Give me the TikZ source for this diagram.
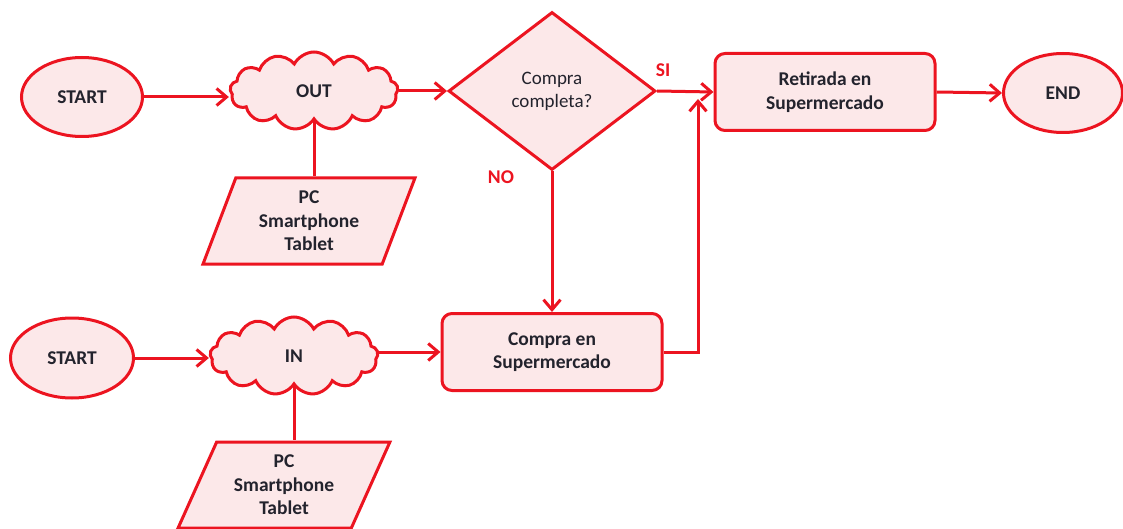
\documentclass[tikz,border=0pt]{standalone}
\usepackage{fontspec}
\setmainfont{Carlito}
\usetikzlibrary{shapes.geometric,shapes.symbols,arrows.meta}
\definecolor{flowred}{RGB}{236,20,32}
\definecolor{flowfill}{RGB}{252,232,233}
\definecolor{flowtext}{RGB}{35,35,45}
\tikzset{
  base/.style={draw=flowred, fill=flowfill, line width=3pt, text=flowtext,
    font=\fontsize{19.5}{23.5}\selectfont\bfseries, align=center, inner sep=2pt},
  terminal/.style={base, ellipse, minimum width=121pt, minimum height=79pt},
  channel/.style={base, cloud, cloud puffs=13, cloud puff arc=125, cloud ignores aspect,
    minimum width=168pt, minimum height=78pt},
  device/.style={base, trapezium, trapezium stretches=true, minimum height=86pt,
    minimum width=212pt},
  decision/.style={base, diamond, minimum width=207pt, minimum height=158pt,
    font=\fontsize{19}{23}\selectfont},
  process/.style={base, rectangle, rounded corners=10pt, minimum width=220pt, minimum height=77pt},
  link/.style={draw=flowred, line width=3pt},
  arr/.style={link, -{Straight Barb[length=10pt,width=17pt,line width=3pt]}},
  tag/.style={text=flowred, font=\fontsize{19.5}{22}\selectfont\bfseries}
}
\begin{document}
\begin{tikzpicture}[x=1pt,y=-1pt]
\useasboundingbox (0,0) rectangle (1123,529);

% upper branch: purchase outside the store
\node[terminal] (start1) at (82,97) {START};
\node[channel] (out) at (314,91) {OUT};
\node[device, trapezium left angle=70, trapezium right angle=110] (dev1) at (309,221)
  {PC\\Smartphone\\Tablet};
\node[decision] (check) at (552,91) {Compra\\completa?};
\node[process] (pickup) at (825,92) {Retirada en\\Supermercado};
\node[terminal, minimum width=119pt] (end) at (1063,93) {END};

% lower branch: purchase inside the store
\node[terminal, minimum width=123pt, minimum height=80pt] (start2) at (72,358) {START};
\node[channel] (in) at (294,356) {IN};
\node[device, trapezium left angle=65, trapezium right angle=115] (dev2) at (284,485)
  {PC\\Smartphone\\Tablet};
\node[process] (store) at (552,352) {Compra en\\Supermercado};

\coordinate (join) at (698,99);

\draw[arr] (start1) -- (out.west |- start1.east);
\draw[link] (out.south) -- (out.south |- dev1.north);
\draw[arr] (out.east |- check.west) -- (check.west);
\draw[arr] (check.east) -- (pickup.west);
\draw[arr] (pickup.east) -- (end.west);
\draw[arr] (check.south) -- (store.north);
\draw[arr] (store.east) -| (join);

\draw[arr] (start2) -- (in.west |- start2.east);
\draw[link] (in.south) -- (in.south |- dev2.north);
\draw[arr] (in.east |- store.west) -- (store.west);

\node[tag] (si) at (663,70) {SI};
\node[tag] (no) at (501,177) {NO};
\end{tikzpicture}
\end{document}
